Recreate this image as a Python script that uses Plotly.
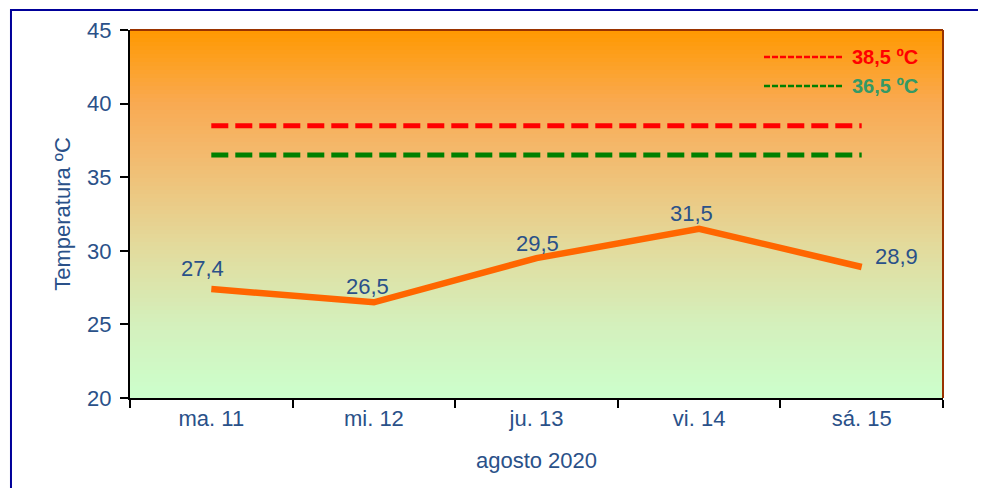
import plotly.graph_objects as go

categories = ["ma. 11", "mi. 12", "ju. 13", "vi. 14", "sá. 15"]
temps = [27.4, 26.5, 29.5, 31.5, 28.9]
temp_labels = ["27,4", "26,5", "29,5", "31,5", "28,9"]
limit_high = 38.5
limit_low = 36.5
limit_high_label = "38,5 ºC"
limit_low_label = "36,5 ºC"
y_ticks = [20, 25, 30, 35, 40, 45]

BLUE = "#2A5189"
FONT = "Liberation Sans, Arial, sans-serif"

fig = go.Figure()

# gradient background bands
stops = [(0.0, (204, 255, 204)), (0.2, (212, 240, 188)), (0.4, (226, 220, 158)),
         (0.66, (243, 186, 110)), (0.8, (249, 170, 82)), (1.0, (255, 153, 0))]

def col(t):
    for (a, ca), (b, cb) in zip(stops[:-1], stops[1:]):
        if a <= t <= b:
            f = (t - a) / (b - a)
            return "rgb(%d,%d,%d)" % tuple(round(ca[i] + (cb[i] - ca[i]) * f) for i in range(3))
    return "rgb(255,153,0)"

N = 92
shapes = []
for i in range(N):
    shapes.append(dict(type="rect", xref="paper", yref="paper", x0=0, x1=1,
                       y0=i / N, y1=(i + 1) / N + 0.002, line=dict(width=0),
                       fillcolor=col((i + 0.5) / N), layer="below"))

# plot border top/right brown
shapes.append(dict(type="line", xref="paper", yref="paper", x0=0, x1=1, y0=1, y1=1,
                   line=dict(color="#993300", width=2)))
shapes.append(dict(type="line", xref="paper", yref="paper", x0=1, x1=1, y0=0, y1=1,
                   line=dict(color="#993300", width=2)))
# outer frame
shapes.append(dict(type="rect", xref="paper", yref="paper", x0=-0.1464, x1=1.2,
                   y0=-0.5, y1=1.0543, line=dict(color="#000099", width=2)))

fig.add_trace(go.Scatter(x=categories, y=[limit_high] * len(categories), mode="lines",
                         line=dict(color="#FF0000", width=5, dash="17px,7px"),
                         showlegend=False, hoverinfo="skip"))
fig.add_trace(go.Scatter(x=categories, y=[limit_low] * len(categories), mode="lines",
                         line=dict(color="#008000", width=5, dash="17px,7px"),
                         showlegend=False, hoverinfo="skip"))
fig.add_trace(go.Scatter(x=categories, y=temps, mode="lines",
                         line=dict(color="#FF6600", width=6.5),
                         showlegend=False))

# data labels
offsets = [(-9, 21), (-6, 16), (1, 15), (-8, 15), (35, 10)]
annotations = []
for c, v, lab, (dx, dy) in zip(categories, temps, temp_labels, offsets):
    annotations.append(dict(x=c, y=v, text=lab, showarrow=False, xshift=dx, yshift=dy,
                            font=dict(family=FONT, size=22, color=BLUE)))

# legend
leg_x0 = (764 - 130) / 813
leg_x1 = (842 - 130) / 813
for ypix, color, tcolor, lab in [(57, "#FF0000", "#FF0000", limit_high_label),
                                 (86, "#008000", "#339966", limit_low_label)]:
    yp = (398 - ypix) / 368
    shapes.append(dict(type="line", xref="paper", yref="paper", x0=leg_x0, x1=leg_x1,
                       y0=yp, y1=yp, line=dict(color=color, width=2.5, dash="6px,2px")))
    annotations.append(dict(xref="paper", yref="paper", x=(850 - 130) / 813, y=yp,
                            xanchor="left", yanchor="middle", showarrow=False,
                            text="<b>%s</b>" % lab,
                            font=dict(family=FONT, size=20, color=tcolor)))

fig.update_layout(
    width=986, height=488,
    margin=dict(l=122, r=51, t=22, b=98),
    paper_bgcolor="white", plot_bgcolor="#CCFFCC",
    shapes=shapes, annotations=annotations,
    font=dict(family=FONT, color=BLUE, size=22),
    xaxis=dict(type="category", showline=True, linecolor="black", linewidth=2,
               ticks="outside", tickson="boundaries", ticklen=8, tickwidth=2,
               tickcolor="black", showgrid=False, zeroline=False, automargin=False,
               tickfont=dict(size=22, color=BLUE),
               title=dict(text="agosto 2020", font=dict(size=22, color=BLUE), standoff=22),
               range=[-0.5, 4.5]),
    yaxis=dict(range=[20, 45], tickvals=y_ticks, showline=True, linecolor="black",
               linewidth=2, ticks="outside", ticklen=8, tickwidth=2, tickcolor="black",
               showgrid=False, zeroline=False, automargin=False, ticklabelstandoff=4,
               tickfont=dict(size=22, color=BLUE),
               title=dict(text="Temperatura ºC", font=dict(size=22, color=BLUE), standoff=10)),
)

fig.write_html("out.html")
